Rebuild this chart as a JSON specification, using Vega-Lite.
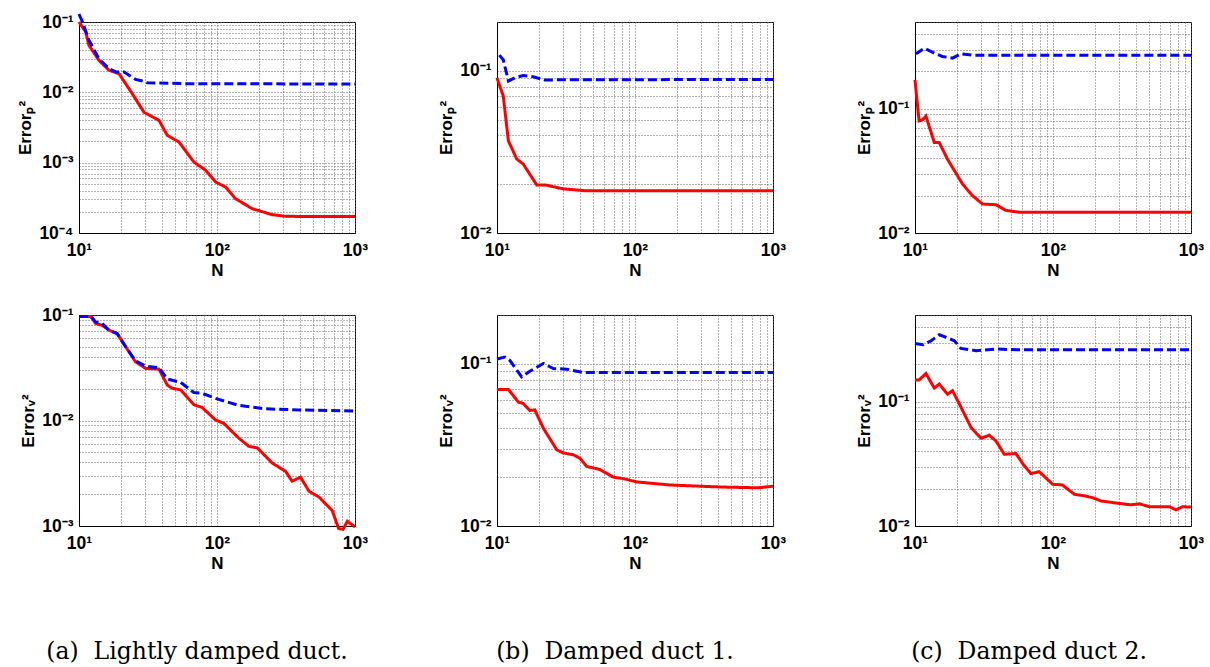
{
  "$schema": "https://vega.github.io/schema/vega-lite/v6.json",
  "padding": {"left": 16, "top": 7, "right": 10, "bottom": 5},
  "background": "white",
  "config": {
    "view": {"stroke": "black", "strokeWidth": 1},
    "axis": {
      "grid": true, "gridDash": [1, 2], "gridColor": "#666", "gridWidth": 1,
      "domainColor": "black", "ticks": false,
      "labelFont": "Liberation Sans", "labelFontSize": 17.5, "labelFontWeight": "bold", "labelColor": "black",
      "labelPadding": 6, "labelFlush": false, "labelOverlap": false, "labelBound": false,
      "titleFont": "Liberation Sans", "titleFontSize": 17, "titleFontWeight": "bold", "titleColor": "black"
    },
    "axisX": {"labelPadding": 8, "titlePadding": 4},
    "title": {"font": "DejaVu Serif", "fontSize": 23.5, "fontWeight": "normal", "color": "black"},
    "line": {"strokeWidth": 3, "clip": true, "strokeCap": "butt"}
  },
  "data": {"values": [
    {"p":1,"s":"r","N":10,"E":0.1},{"p":1,"s":"r","N":11.2,"E":0.072},{"p":1,"s":"r","N":11.8,"E":0.0467},{"p":1,"s":"r","N":13.95,"E":0.0285},{"p":1,"s":"r","N":16.5,"E":0.0206},{"p":1,"s":"r","N":19.5,"E":0.0184},{"p":1,"s":"r","N":24.3,"E":0.0096},{"p":1,"s":"r","N":29.6,"E":0.0052},{"p":1,"s":"r","N":38,"E":0.004},{"p":1,"s":"r","N":43.6,"E":0.00245},{"p":1,"s":"r","N":53,"E":0.00197},{"p":1,"s":"r","N":68,"E":0.00102},{"p":1,"s":"r","N":82.8,"E":0.00078},{"p":1,"s":"r","N":97.8,"E":0.00053},{"p":1,"s":"r","N":115.6,"E":0.00045},{"p":1,"s":"r","N":136,"E":0.000308},{"p":1,"s":"r","N":180,"E":0.000222},{"p":1,"s":"r","N":251,"E":0.000182},{"p":1,"s":"r","N":314,"E":0.000173},{"p":1,"s":"r","N":500,"E":0.000171},{"p":1,"s":"r","N":1000,"E":0.000171},
    {"p":1,"s":"b","N":10,"E":0.13},{"p":1,"s":"b","N":10.6,"E":0.1},{"p":1,"s":"b","N":11.8,"E":0.055},{"p":1,"s":"b","N":13.95,"E":0.03},{"p":1,"s":"b","N":16.5,"E":0.0217},{"p":1,"s":"b","N":18.5,"E":0.0195},{"p":1,"s":"b","N":21.2,"E":0.0195},{"p":1,"s":"b","N":25.7,"E":0.0153},{"p":1,"s":"b","N":28.8,"E":0.0145},{"p":1,"s":"b","N":31.2,"E":0.0137},{"p":1,"s":"b","N":56,"E":0.0133},{"p":1,"s":"b","N":1000,"E":0.0131},
    {"p":2,"s":"r","N":10,"E":0.097},{"p":2,"s":"r","N":12.2,"E":0.097},{"p":2,"s":"r","N":13.2,"E":0.083},{"p":2,"s":"r","N":14.7,"E":0.08},{"p":2,"s":"r","N":16.5,"E":0.0718},{"p":2,"s":"r","N":18.9,"E":0.0667},{"p":2,"s":"r","N":21.8,"E":0.0499},{"p":2,"s":"r","N":25.7,"E":0.036},{"p":2,"s":"r","N":30.4,"E":0.0312},{"p":2,"s":"r","N":38,"E":0.0307},{"p":2,"s":"r","N":43.6,"E":0.0217},{"p":2,"s":"r","N":47.3,"E":0.0202},{"p":2,"s":"r","N":54.5,"E":0.0195},{"p":2,"s":"r","N":68,"E":0.0141},{"p":2,"s":"r","N":78,"E":0.0133},{"p":2,"s":"r","N":97.8,"E":0.0101},{"p":2,"s":"r","N":112,"E":0.0094},{"p":2,"s":"r","N":144,"E":0.0068},{"p":2,"s":"r","N":170,"E":0.0057},{"p":2,"s":"r","N":196,"E":0.0055},{"p":2,"s":"r","N":251,"E":0.00396},{"p":2,"s":"r","N":314,"E":0.0033},{"p":2,"s":"r","N":350,"E":0.00266},{"p":2,"s":"r","N":403,"E":0.0029},{"p":2,"s":"r","N":464,"E":0.00214},{"p":2,"s":"r","N":549,"E":0.00188},{"p":2,"s":"r","N":684,"E":0.0014},{"p":2,"s":"r","N":760,"E":0.00095},{"p":2,"s":"r","N":820,"E":0.00093},{"p":2,"s":"r","N":880,"E":0.00111},{"p":2,"s":"r","N":1000,"E":0.00098},
    {"p":2,"s":"b","N":10,"E":0.097},{"p":2,"s":"b","N":12.2,"E":0.097},{"p":2,"s":"b","N":13.2,"E":0.086},{"p":2,"s":"b","N":14.7,"E":0.083},{"p":2,"s":"b","N":16.5,"E":0.0718},{"p":2,"s":"b","N":18.9,"E":0.0667},{"p":2,"s":"b","N":21.8,"E":0.05},{"p":2,"s":"b","N":25.7,"E":0.0368},{"p":2,"s":"b","N":30.4,"E":0.0328},{"p":2,"s":"b","N":38,"E":0.0316},{"p":2,"s":"b","N":43.6,"E":0.0247},{"p":2,"s":"b","N":54.5,"E":0.023},{"p":2,"s":"b","N":68,"E":0.0184},{"p":2,"s":"b","N":78,"E":0.0181},{"p":2,"s":"b","N":97.8,"E":0.0162},{"p":2,"s":"b","N":144,"E":0.0139},{"p":2,"s":"b","N":225,"E":0.0129},{"p":2,"s":"b","N":392,"E":0.0126},{"p":2,"s":"b","N":1000,"E":0.0123},
    {"p":3,"s":"r","N":10,"E":0.0906},{"p":3,"s":"r","N":11.1,"E":0.07},{"p":3,"s":"r","N":12.1,"E":0.037},{"p":3,"s":"r","N":13.9,"E":0.0286},{"p":3,"s":"r","N":15.5,"E":0.0266},{"p":3,"s":"r","N":19.4,"E":0.0198},{"p":3,"s":"r","N":22.3,"E":0.0198},{"p":3,"s":"r","N":30.3,"E":0.0187},{"p":3,"s":"r","N":44.7,"E":0.0182},{"p":3,"s":"r","N":1000,"E":0.0182},
    {"p":3,"s":"b","N":10.4,"E":0.125},{"p":3,"s":"b","N":11.1,"E":0.117},{"p":3,"s":"b","N":12.1,"E":0.0865},{"p":3,"s":"b","N":13.5,"E":0.0906},{"p":3,"s":"b","N":15.5,"E":0.0935},{"p":3,"s":"b","N":18.3,"E":0.0918},{"p":3,"s":"b","N":22.3,"E":0.0877},{"p":3,"s":"b","N":28.5,"E":0.088},{"p":3,"s":"b","N":1000,"E":0.0885},
    {"p":4,"s":"r","N":10,"E":0.0695},{"p":4,"s":"r","N":12.1,"E":0.0695},{"p":4,"s":"r","N":14.3,"E":0.058},{"p":4,"s":"r","N":15.5,"E":0.057},{"p":4,"s":"r","N":17.3,"E":0.0515},{"p":4,"s":"r","N":18.8,"E":0.052},{"p":4,"s":"r","N":21.7,"E":0.04},{"p":4,"s":"r","N":27.1,"E":0.0295},{"p":4,"s":"r","N":30.3,"E":0.0282},{"p":4,"s":"r","N":35.7,"E":0.0275},{"p":4,"s":"r","N":39.9,"E":0.0262},{"p":4,"s":"r","N":44.7,"E":0.0233},{"p":4,"s":"r","N":55.7,"E":0.0223},{"p":4,"s":"r","N":69.7,"E":0.02},{"p":4,"s":"r","N":82.3,"E":0.0196},{"p":4,"s":"r","N":103,"E":0.0187},{"p":4,"s":"r","N":179,"E":0.0179},{"p":4,"s":"r","N":413,"E":0.0174},{"p":4,"s":"r","N":783,"E":0.0172},{"p":4,"s":"r","N":1000,"E":0.0176},
    {"p":4,"s":"b","N":10,"E":0.107},{"p":4,"s":"b","N":11.4,"E":0.11},{"p":4,"s":"b","N":12.4,"E":0.105},{"p":4,"s":"b","N":15.1,"E":0.083},{"p":4,"s":"b","N":17.3,"E":0.09},{"p":4,"s":"b","N":21.7,"E":0.1005},{"p":4,"s":"b","N":25.6,"E":0.0935},{"p":4,"s":"b","N":32,"E":0.0927},{"p":4,"s":"b","N":42.2,"E":0.0884},{"p":4,"s":"b","N":1000,"E":0.0884},
    {"p":5,"s":"r","N":10,"E":0.171},{"p":5,"s":"r","N":10.7,"E":0.08},{"p":5,"s":"r","N":11.4,"E":0.082},{"p":5,"s":"r","N":12,"E":0.0875},{"p":5,"s":"r","N":13.8,"E":0.0535},{"p":5,"s":"r","N":15,"E":0.0535},{"p":5,"s":"r","N":17.2,"E":0.0393},{"p":5,"s":"r","N":22.1,"E":0.0248},{"p":5,"s":"r","N":26.1,"E":0.02},{"p":5,"s":"r","N":30.9,"E":0.0171},{"p":5,"s":"r","N":38.6,"E":0.0169},{"p":5,"s":"r","N":45.7,"E":0.0152},{"p":5,"s":"r","N":57,"E":0.0147},{"p":5,"s":"r","N":1000,"E":0.0147},
    {"p":5,"s":"b","N":10,"E":0.28},{"p":5,"s":"b","N":10.4,"E":0.281},{"p":5,"s":"b","N":11.7,"E":0.308},{"p":5,"s":"b","N":13.8,"E":0.281},{"p":5,"s":"b","N":15.8,"E":0.264},{"p":5,"s":"b","N":18.7,"E":0.256},{"p":5,"s":"b","N":21.5,"E":0.277},{"p":5,"s":"b","N":26.1,"E":0.27},{"p":5,"s":"b","N":1000,"E":0.27},
    {"p":6,"s":"r","N":10,"E":0.15},{"p":6,"s":"r","N":10.7,"E":0.15},{"p":6,"s":"r","N":12,"E":0.169},{"p":6,"s":"r","N":13.8,"E":0.129},{"p":6,"s":"r","N":15,"E":0.139},{"p":6,"s":"r","N":17.2,"E":0.115},{"p":6,"s":"r","N":18.7,"E":0.123},{"p":6,"s":"r","N":21,"E":0.0957},{"p":6,"s":"r","N":25.5,"E":0.062},{"p":6,"s":"r","N":30.1,"E":0.0509},{"p":6,"s":"r","N":34.5,"E":0.0538},{"p":6,"s":"r","N":38.6,"E":0.0484},{"p":6,"s":"r","N":44.4,"E":0.0378},{"p":6,"s":"r","N":53.9,"E":0.0383},{"p":6,"s":"r","N":60.3,"E":0.0318},{"p":6,"s":"r","N":69.2,"E":0.0264},{"p":6,"s":"r","N":79.5,"E":0.0274},{"p":6,"s":"r","N":99.3,"E":0.0217},{"p":6,"s":"r","N":117,"E":0.0214},{"p":6,"s":"r","N":143,"E":0.018},{"p":6,"s":"r","N":169,"E":0.0175},{"p":6,"s":"r","N":194,"E":0.0169},{"p":6,"s":"r","N":223,"E":0.0159},{"p":6,"s":"r","N":302,"E":0.0152},{"p":6,"s":"r","N":367,"E":0.0148},{"p":6,"s":"r","N":422,"E":0.0151},{"p":6,"s":"r","N":499,"E":0.0143},{"p":6,"s":"r","N":696,"E":0.0143},{"p":6,"s":"r","N":778,"E":0.0135},{"p":6,"s":"r","N":869,"E":0.0143},{"p":6,"s":"r","N":1000,"E":0.0142},
    {"p":6,"s":"b","N":10,"E":0.295},{"p":6,"s":"b","N":11.4,"E":0.288},{"p":6,"s":"b","N":13.1,"E":0.31},{"p":6,"s":"b","N":15,"E":0.347},{"p":6,"s":"b","N":17.2,"E":0.327},{"p":6,"s":"b","N":19.3,"E":0.31},{"p":6,"s":"b","N":21.5,"E":0.269},{"p":6,"s":"b","N":27.7,"E":0.258},{"p":6,"s":"b","N":38.6,"E":0.266},{"p":6,"s":"b","N":57,"E":0.262},{"p":6,"s":"b","N":1000,"E":0.262}
  ]},
  "columns": 3,
  "bounds": "flush",
  "spacing": {"row": 82, "column": 142},
  "concat": [
    {
      "width": 276, "height": 211,
      "transform": [{"filter": "datum.p == 1"}],
      "mark": {"type": "line"},
      "encoding": {
        "x": {"field": "N", "type": "quantitative", "scale": {"type": "log", "domain": [10, 1000], "nice": false},
          "axis": {"title": "N", "values": [10,20,30,40,50,60,70,80,90,100,200,300,400,500,600,700,800,900,1000],
            "labelExpr": "abs(log(datum.value)/LN10 - round(log(datum.value)/LN10)) > 0.01 ? '' : '10' + replace(replace(replace(replace(replace('' + round(log(datum.value)/LN10), '-', '⁻'), '1', '¹'), '2', '²'), '3', '³'), '4', '⁴')"}},
        "y": {"field": "E", "type": "quantitative", "scale": {"type": "log", "domain": [0.0001, 0.1], "nice": false},
          "axis": {"title": "Errorₚ²", "values": [0.0001,0.0002,0.0003,0.0004,0.0005,0.0006,0.0007,0.0008,0.0009,0.001,0.002,0.003,0.004,0.005,0.006,0.007,0.008,0.009,0.01,0.02,0.03,0.04,0.05,0.06,0.07,0.08,0.09,0.1],
            "labelExpr": "abs(log(datum.value)/LN10 - round(log(datum.value)/LN10)) > 0.01 ? '' : '10' + replace(replace(replace(replace(replace('' + round(log(datum.value)/LN10), '-', '⁻'), '1', '¹'), '2', '²'), '3', '³'), '4', '⁴')"}},
        "color": {"field": "s", "type": "nominal", "scale": {"domain": ["r", "b"], "range": ["#ff0000", "#0000ff"]}, "legend": null},
        "strokeDash": {"field": "s", "type": "nominal", "scale": {"domain": ["r", "b"], "range": [[1, 0], [9, 4]]}, "legend": null}
      }
    },
    {
      "width": 276, "height": 211,
      "transform": [{"filter": "datum.p == 3"}],
      "mark": {"type": "line"},
      "encoding": {
        "x": {"field": "N", "type": "quantitative", "scale": {"type": "log", "domain": [10, 1000], "nice": false},
          "axis": {"title": "N", "values": [10,20,30,40,50,60,70,80,90,100,200,300,400,500,600,700,800,900,1000],
            "labelExpr": "abs(log(datum.value)/LN10 - round(log(datum.value)/LN10)) > 0.01 ? '' : '10' + replace(replace(replace(replace(replace('' + round(log(datum.value)/LN10), '-', '⁻'), '1', '¹'), '2', '²'), '3', '³'), '4', '⁴')"}},
        "y": {"field": "E", "type": "quantitative", "scale": {"type": "log", "domain": [0.01, 0.2], "nice": false},
          "axis": {"title": "Errorₚ²", "values": [0.01,0.02,0.03,0.04,0.05,0.06,0.07,0.08,0.09,0.1,0.2],
            "labelExpr": "abs(log(datum.value)/LN10 - round(log(datum.value)/LN10)) > 0.01 ? '' : '10' + replace(replace(replace(replace(replace('' + round(log(datum.value)/LN10), '-', '⁻'), '1', '¹'), '2', '²'), '3', '³'), '4', '⁴')"}},
        "color": {"field": "s", "type": "nominal", "scale": {"domain": ["r", "b"], "range": ["#ff0000", "#0000ff"]}, "legend": null},
        "strokeDash": {"field": "s", "type": "nominal", "scale": {"domain": ["r", "b"], "range": [[1, 0], [9, 4]]}, "legend": null}
      }
    },
    {
      "width": 276, "height": 211,
      "transform": [{"filter": "datum.p == 5"}],
      "mark": {"type": "line"},
      "encoding": {
        "x": {"field": "N", "type": "quantitative", "scale": {"type": "log", "domain": [10, 1000], "nice": false},
          "axis": {"title": "N", "values": [10,20,30,40,50,60,70,80,90,100,200,300,400,500,600,700,800,900,1000],
            "labelExpr": "abs(log(datum.value)/LN10 - round(log(datum.value)/LN10)) > 0.01 ? '' : '10' + replace(replace(replace(replace(replace('' + round(log(datum.value)/LN10), '-', '⁻'), '1', '¹'), '2', '²'), '3', '³'), '4', '⁴')"}},
        "y": {"field": "E", "type": "quantitative", "scale": {"type": "log", "domain": [0.01, 0.5], "nice": false},
          "axis": {"title": "Errorₚ²", "values": [0.01,0.02,0.03,0.04,0.05,0.06,0.07,0.08,0.09,0.1,0.2,0.3,0.4,0.5],
            "labelExpr": "abs(log(datum.value)/LN10 - round(log(datum.value)/LN10)) > 0.01 ? '' : '10' + replace(replace(replace(replace(replace('' + round(log(datum.value)/LN10), '-', '⁻'), '1', '¹'), '2', '²'), '3', '³'), '4', '⁴')"}},
        "color": {"field": "s", "type": "nominal", "scale": {"domain": ["r", "b"], "range": ["#ff0000", "#0000ff"]}, "legend": null},
        "strokeDash": {"field": "s", "type": "nominal", "scale": {"domain": ["r", "b"], "range": [[1, 0], [9, 4]]}, "legend": null}
      }
    },
    {
      "width": 276, "height": 211,
      "title": {"text": "(a)\u00a0 Lightly damped duct.", "orient": "bottom", "anchor": "middle", "offset": 68, "dx": -20},
      "transform": [{"filter": "datum.p == 2"}],
      "mark": {"type": "line"},
      "encoding": {
        "x": {"field": "N", "type": "quantitative", "scale": {"type": "log", "domain": [10, 1000], "nice": false},
          "axis": {"title": "N", "values": [10,20,30,40,50,60,70,80,90,100,200,300,400,500,600,700,800,900,1000],
            "labelExpr": "abs(log(datum.value)/LN10 - round(log(datum.value)/LN10)) > 0.01 ? '' : '10' + replace(replace(replace(replace(replace('' + round(log(datum.value)/LN10), '-', '⁻'), '1', '¹'), '2', '²'), '3', '³'), '4', '⁴')"}},
        "y": {"field": "E", "type": "quantitative", "scale": {"type": "log", "domain": [0.001, 0.1], "nice": false},
          "axis": {"title": "Errorᵥ²", "values": [0.001,0.002,0.003,0.004,0.005,0.006,0.007,0.008,0.009,0.01,0.02,0.03,0.04,0.05,0.06,0.07,0.08,0.09,0.1],
            "labelExpr": "abs(log(datum.value)/LN10 - round(log(datum.value)/LN10)) > 0.01 ? '' : '10' + replace(replace(replace(replace(replace('' + round(log(datum.value)/LN10), '-', '⁻'), '1', '¹'), '2', '²'), '3', '³'), '4', '⁴')"}},
        "color": {"field": "s", "type": "nominal", "scale": {"domain": ["r", "b"], "range": ["#ff0000", "#0000ff"]}, "legend": null},
        "strokeDash": {"field": "s", "type": "nominal", "scale": {"domain": ["r", "b"], "range": [[1, 0], [9, 4]]}, "legend": null}
      }
    },
    {
      "width": 276, "height": 211,
      "title": {"text": "(b)\u00a0 Damped duct 1.", "orient": "bottom", "anchor": "middle", "offset": 68, "dx": -20},
      "transform": [{"filter": "datum.p == 4"}],
      "mark": {"type": "line"},
      "encoding": {
        "x": {"field": "N", "type": "quantitative", "scale": {"type": "log", "domain": [10, 1000], "nice": false},
          "axis": {"title": "N", "values": [10,20,30,40,50,60,70,80,90,100,200,300,400,500,600,700,800,900,1000],
            "labelExpr": "abs(log(datum.value)/LN10 - round(log(datum.value)/LN10)) > 0.01 ? '' : '10' + replace(replace(replace(replace(replace('' + round(log(datum.value)/LN10), '-', '⁻'), '1', '¹'), '2', '²'), '3', '³'), '4', '⁴')"}},
        "y": {"field": "E", "type": "quantitative", "scale": {"type": "log", "domain": [0.01, 0.2], "nice": false},
          "axis": {"title": "Errorᵥ²", "values": [0.01,0.02,0.03,0.04,0.05,0.06,0.07,0.08,0.09,0.1,0.2],
            "labelExpr": "abs(log(datum.value)/LN10 - round(log(datum.value)/LN10)) > 0.01 ? '' : '10' + replace(replace(replace(replace(replace('' + round(log(datum.value)/LN10), '-', '⁻'), '1', '¹'), '2', '²'), '3', '³'), '4', '⁴')"}},
        "color": {"field": "s", "type": "nominal", "scale": {"domain": ["r", "b"], "range": ["#ff0000", "#0000ff"]}, "legend": null},
        "strokeDash": {"field": "s", "type": "nominal", "scale": {"domain": ["r", "b"], "range": [[1, 0], [9, 4]]}, "legend": null}
      }
    },
    {
      "width": 276, "height": 211,
      "title": {"text": "(c)\u00a0 Damped duct 2.", "orient": "bottom", "anchor": "middle", "offset": 68, "dx": -24},
      "transform": [{"filter": "datum.p == 6"}],
      "mark": {"type": "line"},
      "encoding": {
        "x": {"field": "N", "type": "quantitative", "scale": {"type": "log", "domain": [10, 1000], "nice": false},
          "axis": {"title": "N", "values": [10,20,30,40,50,60,70,80,90,100,200,300,400,500,600,700,800,900,1000],
            "labelExpr": "abs(log(datum.value)/LN10 - round(log(datum.value)/LN10)) > 0.01 ? '' : '10' + replace(replace(replace(replace(replace('' + round(log(datum.value)/LN10), '-', '⁻'), '1', '¹'), '2', '²'), '3', '³'), '4', '⁴')"}},
        "y": {"field": "E", "type": "quantitative", "scale": {"type": "log", "domain": [0.01, 0.5], "nice": false},
          "axis": {"title": "Errorᵥ²", "values": [0.01,0.02,0.03,0.04,0.05,0.06,0.07,0.08,0.09,0.1,0.2,0.3,0.4,0.5],
            "labelExpr": "abs(log(datum.value)/LN10 - round(log(datum.value)/LN10)) > 0.01 ? '' : '10' + replace(replace(replace(replace(replace('' + round(log(datum.value)/LN10), '-', '⁻'), '1', '¹'), '2', '²'), '3', '³'), '4', '⁴')"}},
        "color": {"field": "s", "type": "nominal", "scale": {"domain": ["r", "b"], "range": ["#ff0000", "#0000ff"]}, "legend": null},
        "strokeDash": {"field": "s", "type": "nominal", "scale": {"domain": ["r", "b"], "range": [[1, 0], [9, 4]]}, "legend": null}
      }
    }
  ]
}
